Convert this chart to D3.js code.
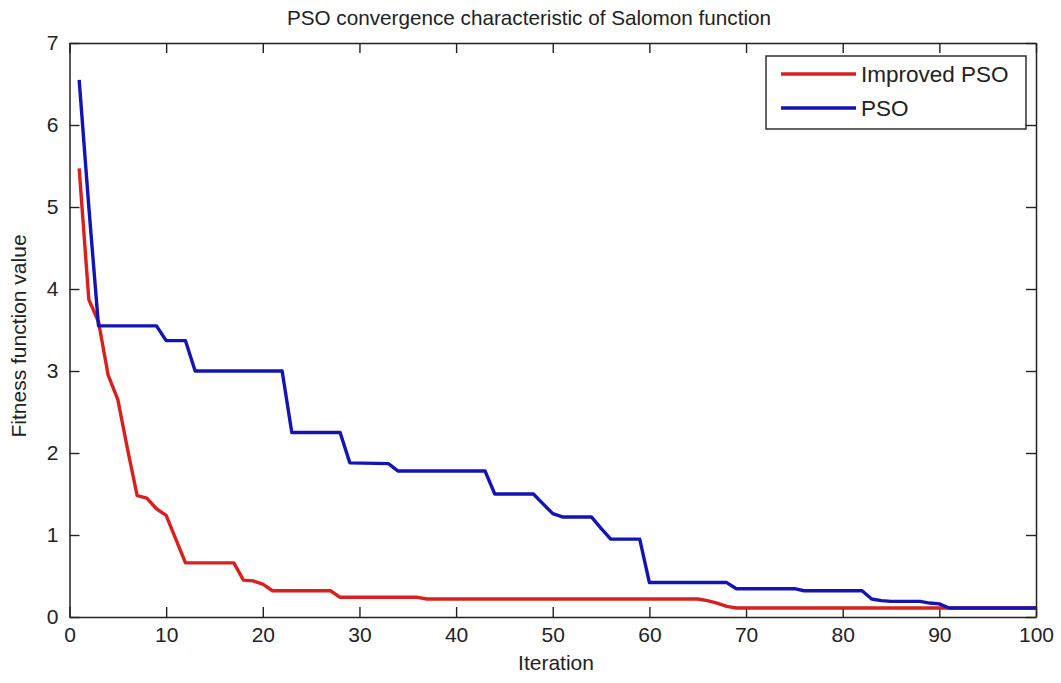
<!DOCTYPE html>
<html>
<head>
<meta charset="utf-8">
<script src="https://cdn.jsdelivr.net/npm/d3@7"></script>
<style>
  body { margin: 0; background: #fff; }
  svg { font-family: 'Liberation Sans', Arial, sans-serif; }
  .tick text { font-size: 21px; fill: #222; }
</style>
</head>
<body>
<svg width="1061" height="683"></svg>
<script>
// breakpoints of each convergence curve (iteration, fitness)
const PSO_ITER = [1, 2, 3, 9, 10, 12, 13, 22, 23, 28, 29, 33, 34, 43, 44, 48, 49, 50, 51, 54, 55, 56, 59, 60, 68, 69, 75, 76, 82, 83, 84, 85, 88, 89, 90, 91, 100]
const PSO_VAL = [6.55, 5.0, 3.55, 3.55, 3.37, 3.37, 3.0, 3.0, 2.25, 2.25, 1.88, 1.87, 1.78, 1.78, 1.5, 1.5, 1.38, 1.26, 1.22, 1.22, 1.08, 0.95, 0.95, 0.42, 0.42, 0.345, 0.345, 0.32, 0.32, 0.22, 0.2, 0.19, 0.19, 0.17, 0.16, 0.11, 0.11]

const IPSO_ITER = [1, 2, 3, 4, 5, 6, 7, 8, 9, 10, 11, 12, 17, 18, 19, 20, 21, 27, 28, 36, 37, 65, 66, 67, 68, 69, 100]
const IPSO_VAL = [5.47, 3.87, 3.6, 2.95, 2.65, 2.05, 1.48, 1.45, 1.32, 1.24, 0.95, 0.66, 0.66, 0.45, 0.44, 0.4, 0.32, 0.32, 0.24, 0.24, 0.22, 0.22, 0.2, 0.17, 0.13, 0.11, 0.11]

const X_TICKS = [0, 10, 20, 30, 40, 50, 60, 70, 80, 90, 100]
const Y_TICKS = [0, 1, 2, 3, 4, 5, 6, 7]
const SERIES_NAMES = ['Improved PSO', 'PSO']
const SERIES_COLORS = ['#da1f1f', '#1414b6']

const plotLeft = 69.5, plotRight = 1036, plotTop = 43, plotBottom = 617

const svg = d3.select('svg')

const xScale = d3.scaleLinear().domain([0, 100]).range([plotLeft, plotRight])
const yScale = d3.scaleLinear().domain([0, 7]).range([plotBottom, plotTop])
const intFmt = d3.format('d')

// axes with inward ticks on all four sides
svg.append('g')
  .attr('transform', `translate(0,${plotBottom})`)
  .call(d3.axisBottom(xScale).tickValues(X_TICKS).tickFormat(intFmt).tickSizeInner(-10).tickSizeOuter(0).tickPadding(10))
svg.append('g')
  .attr('transform', `translate(0,${plotTop})`)
  .call(d3.axisTop(xScale).tickValues(X_TICKS).tickSizeInner(-10).tickSizeOuter(0).tickFormat(''))
svg.append('g')
  .attr('transform', `translate(${plotLeft},0)`)
  .call(d3.axisLeft(yScale).tickValues(Y_TICKS).tickFormat(intFmt).tickSizeInner(-10).tickSizeOuter(0).tickPadding(11))
svg.append('g')
  .attr('transform', `translate(${plotRight},0)`)
  .call(d3.axisRight(yScale).tickValues(Y_TICKS).tickSizeInner(-10).tickSizeOuter(0).tickFormat(''))

svg.selectAll('.domain').attr('stroke', '#222').attr('stroke-width', 1.5)
svg.selectAll('.tick line').attr('stroke', '#222').attr('stroke-width', 1.4)

const line = d3.line()
  .x(d => xScale(d[0]))
  .y(d => yScale(d[1]))

const series = [
  d3.zip(IPSO_ITER, IPSO_VAL),
  d3.zip(PSO_ITER, PSO_VAL)
]

svg.selectAll('.curve')
  .data(series)
  .enter()
  .append('path')
  .classed('curve', true)
  .attr('d', line)
  .attr('fill', 'none')
  .attr('stroke', (d, i) => SERIES_COLORS[i])
  .attr('stroke-width', 3.4)
  .attr('stroke-linejoin', 'round')

// title and axis labels
svg.append('text')
  .attr('x', 529).attr('y', 25)
  .attr('text-anchor', 'middle')
  .attr('font-size', 20.7)
  .attr('fill', '#222')
  .text('PSO convergence characteristic of Salomon function')

svg.append('text')
  .attr('x', 556).attr('y', 670)
  .attr('text-anchor', 'middle')
  .attr('font-size', 21)
  .attr('fill', '#222')
  .text('Iteration')

svg.append('text')
  .attr('transform', `translate(26,${(plotTop + plotBottom) / 2 + 6}) rotate(-90)`)
  .attr('text-anchor', 'middle')
  .attr('font-size', 21)
  .attr('fill', '#222')
  .text('Fitness function value')

// legend
const legend = svg.append('g')
legend.append('rect')
  .attr('x', 766).attr('y', 56)
  .attr('width', 260).attr('height', 73)
  .attr('fill', '#fff')
  .attr('stroke', '#222')
  .attr('stroke-width', 1.4)

const items = legend.selectAll('.item')
  .data(SERIES_NAMES)
  .enter()
  .append('g')
  .classed('item', true)
  .attr('transform', (d, i) => `translate(0,${74 + i * 34})`)

items.append('line')
  .attr('x1', 781).attr('x2', 856)
  .attr('stroke', (d, i) => SERIES_COLORS[i])
  .attr('stroke-width', 3.4)

items.append('text')
  .attr('x', 861).attr('y', 8)
  .attr('font-size', 22.5)
  .attr('fill', '#222')
  .text(d => d)
</script>
</body>
</html>
